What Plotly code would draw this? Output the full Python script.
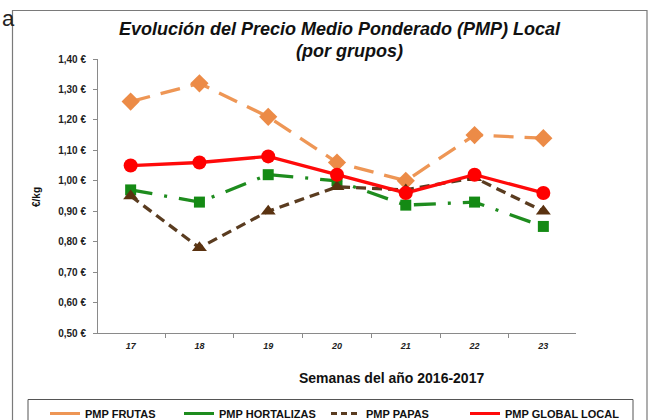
import plotly.graph_objects as go

semanas = ["17", "18", "19", "20", "21", "22", "23"]
frutas = [1.26, 1.32, 1.21, 1.06, 1.00, 1.15, 1.14]
hortalizas = [0.97, 0.93, 1.02, 1.00, 0.92, 0.93, 0.85]
papas = [0.95, 0.78, 0.90, 0.98, 0.97, 1.01, 0.90]
global_local = [1.05, 1.06, 1.08, 1.02, 0.96, 1.02, 0.96]

y_tick_vals = [0.50, 0.60, 0.70, 0.80, 0.90, 1.00, 1.10, 1.20, 1.30, 1.40]
y_tick_text = ["0,50 €", "0,60 €", "0,70 €", "0,80 €", "0,90 €", "1,00 €",
               "1,10 €", "1,20 €", "1,30 €", "1,40 €"]

W, H = 652, 420
L, R, T, B = 98, 76, 59, 87
PW, PH = W - L - R, H - T - B


def px(x):
    return (x - L) / PW


def py(y):
    return (H - B - y) / PH


FONT = "Liberation Sans, Arial, sans-serif"

series = [
    dict(name="PMP FRUTAS", y=frutas, color="#EE9655", mcolor="#EC8B47",
         dash="20px,11px", ldash="solid", symbol="diamond", size=14, leg="legend2"),
    dict(name="PMP HORTALIZAS", y=hortalizas, color="#1E8C1E", mcolor="#148A14",
         dash="22px,12px,3px,12px", ldash="solid", symbol="square", size=11, leg="legend3"),
    dict(name="PMP PAPAS", y=papas, color="#5A3C20", mcolor="#5A3210",
         dash="10px,6px", ldash="6px,4px", symbol="triangle-up", size=13, leg="legend4"),
    dict(name="PMP GLOBAL LOCAL", y=global_local, color="#FF0A0A", mcolor="#FF0000",
         dash="solid", ldash="solid", symbol="circle", size=14, leg="legend5"),
]

fig = go.Figure()
for s in series:
    fig.add_trace(go.Scatter(
        x=semanas, y=s["y"], name=s["name"], mode="lines+markers",
        line=dict(color=s["color"], width=3.3, dash=s["dash"]),
        marker=dict(symbol=s["symbol"], size=s["size"], color=s["mcolor"]),
        showlegend=False))
for s in series:
    fig.add_trace(go.Scatter(
        x=[None], y=[None], name="<b>" + s["name"] + "</b>", mode="lines",
        line=dict(color=s["color"], width=3, dash=s["ldash"]),
        legend=s["leg"], showlegend=True))

leg_font = dict(family=FONT, size=11, color="#111")
leg_common = dict(orientation="h", xanchor="left", yanchor="middle",
                  y=py(413.5), font=leg_font, bgcolor="rgba(0,0,0,0)",
                  itemwidth=30, tracegroupgap=0)

fig.update_layout(
    width=W, height=H,
    margin=dict(l=L, r=R, t=T, b=B, autoexpand=False),
    paper_bgcolor="white", plot_bgcolor="white",
    font=dict(family=FONT),
    legend2=dict(x=px(45), **leg_common),
    legend3=dict(x=px(179), **leg_common),
    legend4=dict(x=px(326), **leg_common),
    legend5=dict(x=px(465), **leg_common),
    xaxis=dict(
        type="category", showgrid=False, showline=True, linecolor="#8a8a8a",
        linewidth=1, ticks="outside", ticklen=4, tickcolor="#8a8a8a",
        tickson="boundaries", ticklabelstandoff=4,
        tickfont=dict(family=FONT, size=9, color="#222"),
        tickprefix="<b><i>", ticksuffix="</i></b>",
        zeroline=False, fixedrange=True),
    yaxis=dict(
        range=[0.5, 1.4], tickvals=y_tick_vals, ticktext=["<b>" + t + "</b>" for t in y_tick_text],
        showgrid=False, showline=True, linecolor="#8a8a8a", linewidth=1,
        ticks="outside", ticklen=4, tickcolor="#8a8a8a", ticklabelstandoff=5,
        tickfont=dict(family=FONT, size=10, color="#222"),
        zeroline=False, fixedrange=True),
    shapes=[
        dict(type="rect", xref="paper", yref="paper",
             x0=px(12.5), x1=px(647), y0=py(440), y1=py(10.5),
             line=dict(color="#7a7a7a", width=1.2), fillcolor="rgba(0,0,0,0)", layer="below"),
        dict(type="rect", xref="paper", yref="paper",
             x0=px(28), x1=px(633), y0=py(440), y1=py(399.5),
             line=dict(color="#555", width=1), fillcolor="rgba(0,0,0,0)", layer="below"),
    ],
    annotations=[
        dict(text="<b><i>Evolución del Precio Medio Ponderado (PMP) Local</i></b>",
             xref="paper", yref="paper", x=px(340), y=py(29), xanchor="center", yanchor="middle",
             showarrow=False, font=dict(family=FONT, size=18, color="#111")),
        dict(text="<b><i>(por grupos)</i></b>",
             xref="paper", yref="paper", x=px(349), y=py(51), xanchor="center", yanchor="middle",
             showarrow=False, font=dict(family=FONT, size=18, color="#111")),
        dict(text="<b>Semanas del año 2016-2017</b>",
             xref="paper", yref="paper", x=px(486), y=py(378), xanchor="right", yanchor="middle",
             showarrow=False, font=dict(family=FONT, size=14, color="#111")),
        dict(text="<b>€/kg</b>", textangle=-90,
             xref="paper", yref="paper", x=px(37), y=py(197), xanchor="center", yanchor="middle",
             showarrow=False, font=dict(family=FONT, size=10, color="#111")),
        dict(text="a", xref="paper", yref="paper", x=px(0), y=py(19), xanchor="left",
             yanchor="middle", showarrow=False, font=dict(family=FONT, size=22, color="#222")),
    ],
)

fig.write_html("out.html", config={"displayModeBar": False},
               post_script="document.body.style.margin='0';document.body.style.overflow='hidden';")
